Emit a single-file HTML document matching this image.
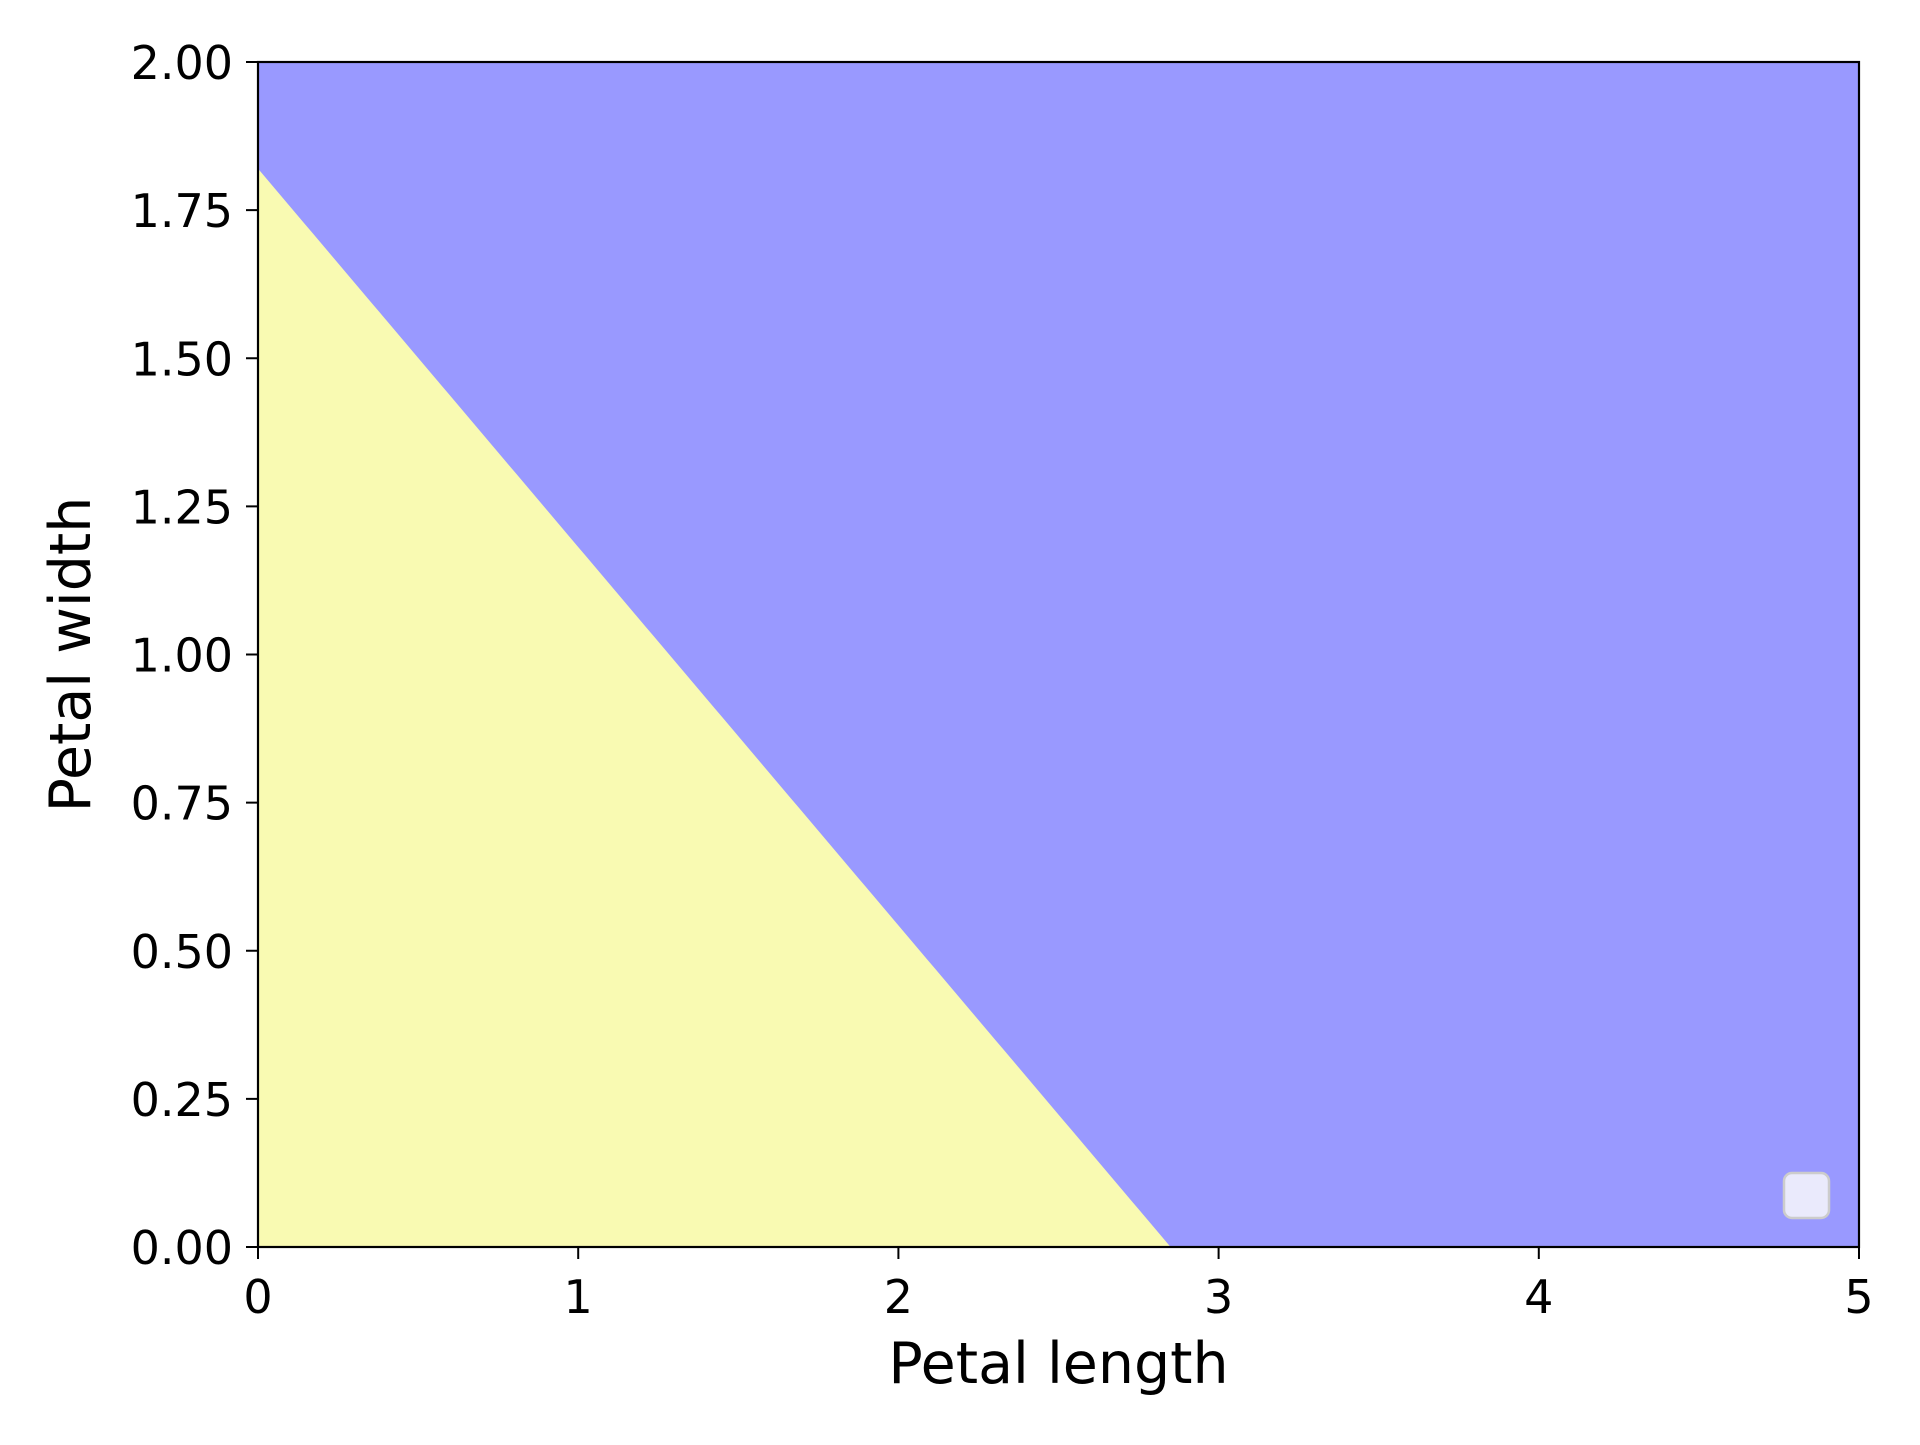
<!DOCTYPE html>
<html><head><meta charset="utf-8"><style>
html,body{margin:0;padding:0;background:#fff;}
svg text{font-family:"DejaVu Sans","Liberation Sans",sans-serif;fill:#000;}
</style></head><body>
<svg id="chart" width="1920" height="1440" xmlns="http://www.w3.org/2000/svg">
<g id="plot"></g>
</svg>
<script>
const xTicks = [0,1,2,3,4,5];
const yTicks = [0,0.25,0.5,0.75,1.0,1.25,1.5,1.75,2.0];
const yTickLabels = ["0.00","0.25","0.50","0.75","1.00","1.25","1.50","1.75","2.00"];
const boundaryX = [0, 2.85];
const boundaryY = [1.82, 0];
const L=258,R=1859,T=62,B=1247;
const xs=v=>L+(v-0)/(5-0)*(R-L);
const ys=v=>B-(v-0)/(2-0)*(B-T);
const NS="http://www.w3.org/2000/svg";
const svg=document.getElementById('chart');
function el(t,a){const e=document.createElementNS(NS,t);for(const k in a)e.setAttribute(k,a[k]);svg.appendChild(e);return e;}
let bg=el('rect',{x:L,y:T,width:R-L,height:B-T,fill:'#9999ff'});


let pts=[[xs(0),ys(0)]];
const steps=120;
for(let i=0;i<=steps;i++){
  const yv=boundaryY[0]*(1-i/steps);
  const xv=boundaryX[0]+(boundaryX[1]-boundaryX[0])*(i/steps);
  pts.push([xs(xv),ys(yv)]);
}
let poly=el('polygon',{points:pts.map(p=>p.join(',')).join(' '),fill:'#f9fab2'});


let frame=el('rect',{x:L,y:T,width:R-L,height:B-T,fill:'none',stroke:'#000','stroke-width':2.2});


xTicks.forEach(v=>{
  const x=xs(v);
  let t=el('line',{x1:x,x2:x,y1:B,y2:B+12,stroke:'#000','stroke-width':2});
  
  
  let tx=el('text',{x:x,y:B+66,'font-size':46,'text-anchor':'middle'});
  tx.textContent=String(v);
  
  
});
yTicks.forEach((v,i)=>{
  const y=ys(v);
  let t=el('line',{x1:L-12,x2:L,y1:y,y2:y,stroke:'#000','stroke-width':2});
  
  
  let tx=el('text',{x:L-25,y:y+17,'font-size':46,'text-anchor':'end'});
  tx.textContent=yTickLabels[i];
  
  
});
let xl=el('text',{x:(L+R)/2,y:1383,'font-size':57,'text-anchor':'middle'});
xl.textContent='Petal length';


let yl=el('text',{x:0,y:0,'font-size':57,'text-anchor':'middle',transform:`translate(90,${(T+B)/2}) rotate(-90)`});
yl.textContent='Petal width';


let lg=el('rect',{x:1784,y:1173,width:45,height:45,rx:8,fill:'#eaeafc',stroke:'#cccccc','stroke-width':2.5});


</script>
</body></html>
